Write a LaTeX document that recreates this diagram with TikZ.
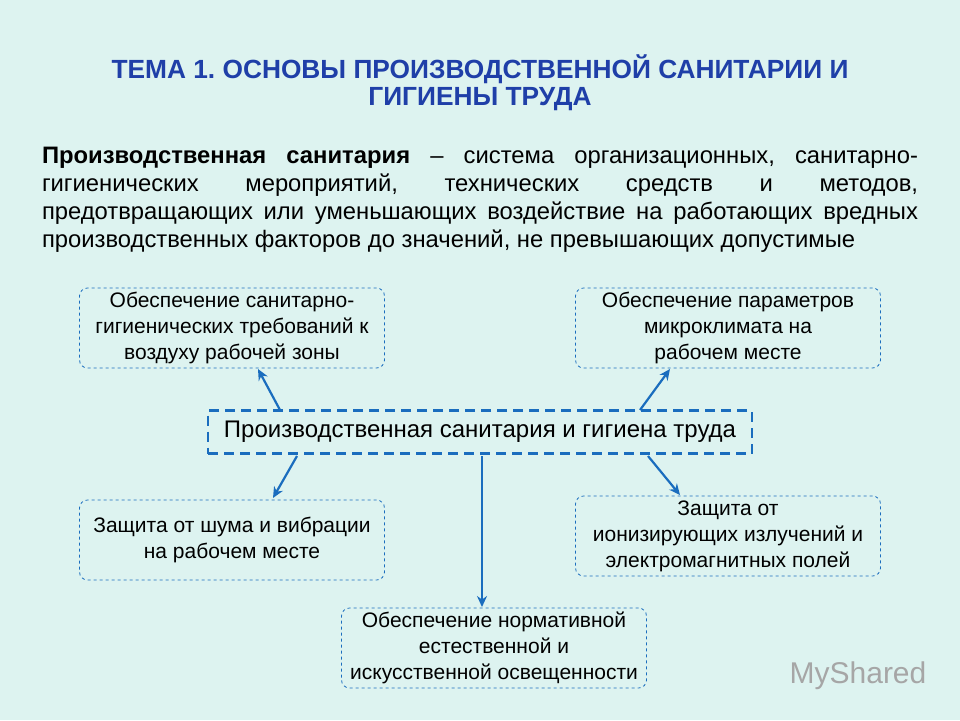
\documentclass[tikz,border=0pt]{standalone}
\usepackage{fontspec}
\setmainfont{Liberation Sans}
\usetikzlibrary{arrows.meta}
\definecolor{bgcol}{HTML}{DDF3F0}
\definecolor{titleblue}{HTML}{1F3FA8}
\definecolor{linkblue}{HTML}{1A6DBE}
\frenchspacing
\begin{document}
\begin{tikzpicture}[x=1pt,y=-1pt]
			\tikzstyle{topic} = [draw=linkblue, line width=0.8, dashed, rounded corners=8, minimum width=305, minimum height=80, inner sep=0, align=center, font=\fontsize{21}{26}\selectfont]
			\tikzstyle{hub} = [draw=linkblue, line width=2.5, dash pattern=on 10pt off 6pt, minimum width=544, minimum height=43, inner sep=0, font=\fontsize{24}{28}\selectfont]
			\tikzstyle{invisible} = [outer sep=0,inner sep=0,minimum size=0]
			\tikzstyle{link} = [-{Stealth[length=11pt,width=10pt]}, line width=2.2, draw=linkblue]
			\fill [bgcol] (0,0) rectangle (960,720);
			\node [invisible, align=center, text=titleblue, font=\bfseries\fontsize{26.3}{27}\selectfont] (title) at (480,83) {ТЕМА 1. ОСНОВЫ ПРОИЗВОДСТВЕННОЙ САНИТАРИИ И\\ГИГИЕНЫ ТРУДА};
			\node [invisible, text width=876, align=justify, font=\fontsize{23.8}{28}\selectfont] (def) at (480,200) {\textbf{Производственная санитария} -- система организационных, санитарно-гигиенических мероприятий, технических средств и методов, предотвращающих или уменьшающих воздействие на работающих вредных производственных факторов до значений, не превышающих допустимые};
			\node [hub] (hub) at (480,432) {Производственная санитария и гигиена труда};
			\node [topic] (air) at (232,328) {Обеспечение санитарно-\\гигиенических требований к\\воздуху рабочей зоны};
			\node [topic] (clim) at (728,328) {Обеспечение параметров\\микроклимата на\\рабочем месте};
			\node [topic] (noise) at (232,540) {Защита от шума и вибрации\\на рабочем месте};
			\node [topic] (rad) at (728,536) {Защита от\\ионизирующих излучений и\\электромагнитных полей};
			\node [topic] (light) at (494,648) {Обеспечение нормативной\\естественной и\\искусственной освещенности};
			\coordinate (h1) at (280,410);
			\coordinate (h2) at (640,410);
			\coordinate (h3) at (297,456);
			\coordinate (h4) at (648,456);
			\coordinate (h5) at (482,456);
			\coordinate (a1) at (258,369);
			\coordinate (a2) at (670,369);
			\coordinate (a3) at (273,498);
			\coordinate (a4) at (680,495);
			\coordinate (a5) at (482,607);
			\draw [link] (h1) -- (a1);
			\draw [link] (h2) -- (a2);
			\draw [link] (h3) -- (a3);
			\draw [link] (h4) -- (a4);
			\draw [link] (h5) -- (a5);
			\node [invisible, text=gray!70, font=\fontsize{30}{30}\selectfont] (logo) at (858,676) {MyShared};
\end{tikzpicture}
\end{document}
